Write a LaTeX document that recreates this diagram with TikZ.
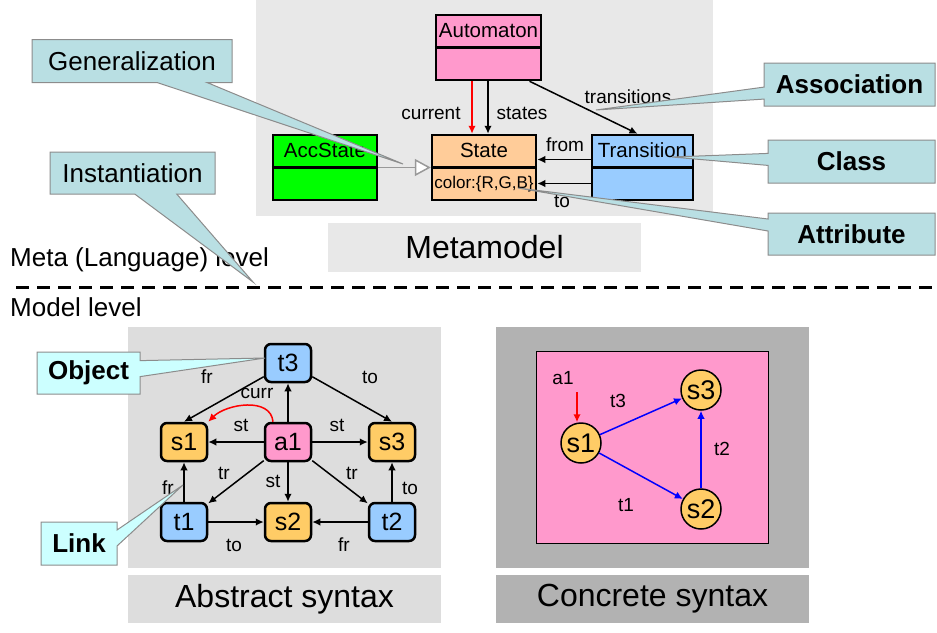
\documentclass[tikz,border=0pt]{standalone}
\usepackage{fontspec}
\setmainfont{Liberation Sans}
\usetikzlibrary{arrows.meta,shapes.callouts,calc}
\definecolor{metabg}{HTML}{E8E8E8}
\definecolor{absbg}{HTML}{DDDDDD}
\definecolor{concbg}{HTML}{B2B2B2}
\definecolor{autopink}{HTML}{FF99CC}
\definecolor{statepeach}{HTML}{FFCC99}
\definecolor{accgreen}{HTML}{00FF00}
\definecolor{transblue}{HTML}{99CCFF}
\definecolor{stateyellow}{HTML}{FFCC66}
\definecolor{noteteal}{HTML}{B9DFE3}
\definecolor{notecyan}{HTML}{CCFFFF}
\definecolor{notegray}{HTML}{8C8C8C}
\definecolor{linegray}{HTML}{999999}

\tikzset{
  cls/.style={draw, line width=2.5pt, inner sep=0pt},
  clsname/.style={font=\fontsize{20.5}{22}\selectfont, inner sep=0pt},
  attr/.style={font=\fontsize{17}{19}\selectfont, inner sep=0pt},
  capbox/.style={inner sep=0pt, font=\fontsize{32}{34}\selectfont},
  lbl/.style={font=\fontsize{19}{21}\selectfont, inner sep=1pt},
  obj/.style={draw, rounded corners=6pt, line width=2.5pt, minimum width=46, minimum height=38,
    inner sep=0pt, font=\fontsize{25}{27}\selectfont},
  stcirc/.style={circle, draw, line width=1.5pt, fill=stateyellow, minimum size=40,
    inner sep=0pt, font=\fontsize{27}{29}\selectfont},
  lvl/.style={anchor=west, inner sep=0pt, font=\fontsize{26}{28}\selectfont},
  note/.style={rectangle callout, draw=notegray, line width=1pt, fill=noteteal,
    inner sep=0pt, font=\fontsize{26}{28}\selectfont},
  link/.style={->, line width=1.5pt}
}

\begin{document}
\begin{tikzpicture}[x=1pt, y=-1pt, >={Latex[length=8pt,width=7.5pt]}]
\useasboundingbox (0,0) rectangle (937,632);

% metamodel
\fill[metabg] (256,0) rectangle (713,216);
\node[capbox, fill=metabg, minimum width=313, minimum height=49] (metalbl) at (484.5,247.5) {Metamodel};

\node[cls, fill=autopink, minimum width=105, minimum height=65] (autom) at (488.5,47.5) {};
\node[cls, fill=statepeach, minimum width=104, minimum height=65] (state) at (484,167.5) {};
\node[cls, fill=accgreen, minimum width=104, minimum height=65] (acc) at (325,167.5) {};
\node[cls, fill=transblue, minimum width=101, minimum height=65] (trans) at (642.5,167.5) {};
\foreach \n in {autom,state,acc,trans}
  \draw[line width=2.5pt] (\n.west) -- (\n.east);
\node[clsname] at ($(autom.north)!.5!(autom.center)$) {Automaton};
\node[clsname] at ($(state.north)!.5!(state.center)$) {State};
\node[clsname] at ($(acc.north)!.5!(acc.center)$) {AccState};
\node[clsname] at ($(trans.north)!.5!(trans.center)$) {Transition};
\node[attr] at ($(state.south)!.5!(state.center)$) {color:\{R,G,B\}};

\draw[link, red] ([xshift=-16.5]autom.south) -- ([xshift=-16.5]autom.south |- state.north);
\draw[link] ([xshift=-0.5]autom.south) -- ([xshift=-0.5]autom.south |- state.north);
\draw[link] ([xshift=41]autom.south) -- ([xshift=-5]trans.north);
\draw[link] ([yshift=8]trans.west) -- ([yshift=8]trans.west -| state.east);
\draw[link] ([yshift=-16]trans.west) -- ([yshift=-16]trans.west -| state.east);
\draw[linegray, line width=1.5pt, -{Triangle[length=16pt,width=17pt,fill=white]}] (acc.east) -- (state.west);

\node[lbl] at (431,113) {current};
\node[lbl] at (522,113) {states};
\node[lbl] at (628,97) {transitions};
\node[lbl] at (565,145) {from};
\node[lbl] at (562,201) {to};

% levels
\node[lvl] (metalvl) at (10,260) {Meta (Language) level};
\node[lvl] (modellvl) at (10,307) {Model level};
\draw[line width=3pt, dash pattern=on 13pt off 8pt] (16,287) -- (934,287);

% abstract syntax
\fill[absbg] (128,327) rectangle (441,568);
\node[capbox, fill=absbg, minimum width=313, minimum height=48] (abslbl) at (284.5,599) {Abstract syntax};

\node[obj, fill=transblue] (t3) at (288,363) {t3};
\node[obj, fill=stateyellow] (s1) at (184,442) {s1};
\node[obj, fill=autopink] (a1) at (288,442) {a1};
\node[obj, fill=stateyellow] (s3) at (392,442) {s3};
\node[obj, fill=transblue] (t1) at (184,522) {t1};
\node[obj, fill=stateyellow] (s2) at (288,522) {s2};
\node[obj, fill=transblue] (t2) at (392,522) {t2};

\draw[link] (t3) -- (s1.north);
\draw[link] (t3) -- (s3.north);
\draw[link] (a1) -- (s1);
\draw[link] (a1) -- (s3);
\draw[link] (a1) -- (t3);
\draw[link] (a1) -- (s2);
\draw[link] (a1) -- (t1);
\draw[link] (a1) -- (t2);
\draw[link] (t1) -- (s1);
\draw[link] (t1) -- (s2);
\draw[link] (t2) -- (s2);
\draw[link] (t2) -- (s3);
\draw[link, red] ([xshift=-15]a1.north) to[out=95, in=45] (s1.north east);

\node[lbl] at (207,377) {fr};
\node[lbl] at (370,377) {to};
\node[lbl] at (257,393) {curr};
\node[lbl] at (241,425) {st};
\node[lbl] at (337,425) {st};
\node[lbl] at (224,473) {tr};
\node[lbl] at (273,481) {st};
\node[lbl] at (352,473) {tr};
\node[lbl] at (168,488) {fr};
\node[lbl] at (410,488) {to};
\node[lbl] at (234,545) {to};
\node[lbl] at (344,545) {fr};

% concrete syntax
\fill[concbg] (496,327) rectangle (809,568);
\node[capbox, fill=concbg, minimum width=313, minimum height=48] (conclbl) at (652.5,599) {Concrete syntax};
\node[draw, fill=autopink, line width=1pt, minimum width=232, minimum height=192] (canvas) at (652,447) {};

\node[stcirc] (cs1) at (581,443) {s1};
\node[stcirc] (cs3) at (701,390) {s3};
\node[stcirc] (cs2) at (701,509) {s2};
\draw[link, blue] (cs1) -- (cs3);
\draw[link, blue] (cs1) -- (cs2);
\draw[link, blue] (cs2) -- (cs3);

\node[lbl] (ca1) at (563,378) {a1};
\coordinate (cinit) at (577,392);
\draw[->, red, line width=2pt] (cinit) -- (cinit |- cs1.north);
\node[lbl] at (618,401) {t3};
\node[lbl] at (722,449) {t2};
\node[lbl] at (626,505) {t1};

% callouts
\node[note, minimum width=200, minimum height=43, callout absolute pointer={(403,164)},
  callout pointer width=50] (gennote) at (132,61) {Generalization};
\node[note, minimum width=165, minimum height=42, callout absolute pointer={(253,282)},
  callout pointer width=42] (instnote) at (132.5,173) {Instantiation};
\node[note, minimum width=171, minimum height=43, callout absolute pointer={(596,110)},
  callout pointer width=12, font=\fontsize{26}{28}\selectfont\bfseries] (assocnote) at (849.5,84.5) {Association};
\node[note, minimum width=167, minimum height=43, callout absolute pointer={(672,157)},
  callout pointer width=12, font=\fontsize{26}{28}\selectfont\bfseries] (classnote) at (851.5,161.5) {Class};
\node[note, minimum width=167, minimum height=42, callout absolute pointer={(518,188)},
  callout pointer width=12, font=\fontsize{26}{28}\selectfont\bfseries] (attrnote) at (851.5,234) {Attribute};
\node[note, fill=notecyan, minimum width=103, minimum height=42, callout absolute pointer={(265,358)},
  callout pointer width=16, font=\fontsize{26}{28}\selectfont\bfseries] (objnote) at (88.5,373) {Object};
\node[note, fill=notecyan, minimum width=76, minimum height=43, callout absolute pointer={(183,485)},
  callout pointer width=16, font=\fontsize{26}{28}\selectfont\bfseries] (linknote) at (79,543.5) {Link};
\end{tikzpicture}
\end{document}
